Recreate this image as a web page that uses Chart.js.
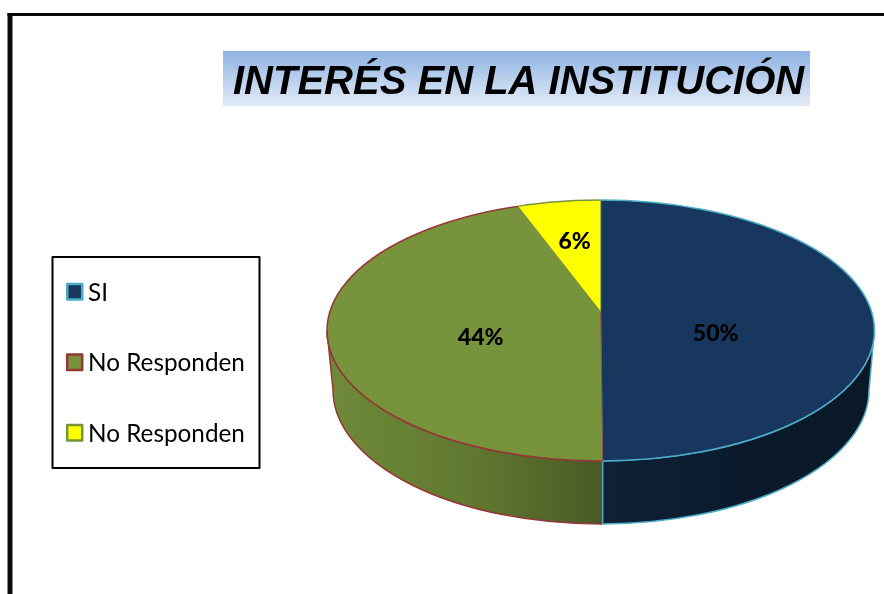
<!DOCTYPE html>
<html lang="es">
<head>
<meta charset="utf-8">
<title>Interés en la institución</title>
<style>html,body{margin:0;padding:0;background:#fff;overflow:hidden}canvas{display:block}</style>
<script src="https://cdn.jsdelivr.net/npm/chart.js@4"></script>
</head>
<body>
<canvas id="c" width="884" height="594"></canvas>
<script>
const chartTitle = 'INTERÉS EN LA INSTITUCIÓN';
const categories = ['SI', 'No Responden', 'No Responden'];
const values = [49.9, 44.4, 5.7];
const faceColors = ['#17375e', '#77933c', '#ffff00'];
const edgeColors = ['#4bacc6', '#953735', '#77933c'];

const top3d = {cx: 600.7, cy: 330.5, rx: 273.7, ry: 130.5};
const base3d = {cx: 601, cy: 390, rx: 268, ry: 134};
const squash = top3d.ry / top3d.rx;

function ellipsePath(ctx, e) {
  ctx.beginPath();
  ctx.ellipse(e.cx, e.cy, e.rx, e.ry, 0, 0, Math.PI * 2);
}
function rayHit(ax, ay, angle) {
  const dx = Math.cos(angle), dy = Math.sin(angle) * squash;
  const px = (ax - top3d.cx) / top3d.rx, py = (ay - top3d.cy) / top3d.ry;
  const qx = dx / top3d.rx, qy = dy / top3d.ry;
  const A = qx * qx + qy * qy, B = 2 * (px * qx + py * qy), C = px * px + py * py - 1;
  const t = (-B + Math.sqrt(B * B - 4 * A * C)) / (2 * A);
  return {x: ax + t * dx, y: ay + t * dy};
}
function wedgePath(ctx, arc) {
  ctx.save();
  ctx.translate(arc.x, arc.y);
  ctx.scale(1, squash);
  ctx.beginPath();
  ctx.moveTo(0, 0);
  ctx.arc(0, 0, arc.outerRadius, arc.startAngle, arc.endAngle);
  ctx.closePath();
  ctx.restore();
}

const scenePlugin = {
  id: 'scene',
  beforeDraw(chart) {
    const ctx = chart.ctx;
    ctx.save();
    ctx.fillStyle = '#fff';
    ctx.fillRect(0, 0, 884, 594);
    ctx.fillStyle = '#0a0a0a';
    ctx.fillRect(7.5, 13, 876.5, 3);
    ctx.fillRect(7.5, 13, 5, 581);
    // title band
    const g = ctx.createLinearGradient(0, 51, 0, 106);
    g.addColorStop(0, '#8db3e2');
    g.addColorStop(1, '#e4ebf7');
    ctx.fillStyle = g;
    ctx.fillRect(223, 51, 587, 55);
    ctx.fillStyle = '#000';
    ctx.font = 'italic bold 40px "Liberation Sans"';
    ctx.textAlign = 'left';
    ctx.textBaseline = 'alphabetic';
    ctx.fillText(chartTitle, 233, 93.5);
    // legend
    ctx.lineWidth = 2;
    ctx.strokeStyle = '#000';
    ctx.lineJoin = 'round';
    ctx.strokeRect(52.5, 257, 207, 211);
    const ys = [292, 362.5, 433];
    ctx.font = '24.3px Lato';
    categories.forEach((name, i) => {
      ctx.fillStyle = faceColors[i];
      ctx.fillRect(67.2, ys[i] - 8, 15, 15.5);
      ctx.strokeStyle = edgeColors[i];
      ctx.lineWidth = 2.5;
      ctx.strokeRect(67.2, ys[i] - 8, 15, 15.5);
      ctx.fillStyle = '#000';
      ctx.fillText(name, 88, ys[i] + 8.5);
    });
    ctx.restore();
  },
  beforeDatasetsDraw(chart) {
    const ctx = chart.ctx;
    const arcs = chart.getDatasetMeta(0).data;
    const split = rayHit(arcs[0].x, arcs[0].y, arcs[0].endAngle).x;
    // side wall, one part per slice that faces the viewer
    const wall = () => {
      ctx.beginPath();
      ctx.moveTo(top3d.cx - top3d.rx, top3d.cy);
      ctx.lineTo(base3d.cx - base3d.rx, base3d.cy);
      ctx.ellipse(base3d.cx, base3d.cy, base3d.rx, base3d.ry, 0, Math.PI, 0, true);
      ctx.lineTo(top3d.cx + top3d.rx, top3d.cy);
      ctx.ellipse(top3d.cx, top3d.cy, top3d.rx, top3d.ry, 0, 0, Math.PI, false);
      ctx.closePath();
    };
    const parts = [
      {x0: split, x1: 884, stops: ['#0e2138', '#0a1a2b', '#0a1826'], idx: 0, a: split, b: 880},
      {x0: 0, x1: split, stops: ['#6f8a39', '#5f7730', '#4a5826'], idx: 1, a: 330, b: split}
    ];
    parts.forEach(p => {
      ctx.save();
      ctx.beginPath();
      ctx.rect(p.x0, 0, p.x1 - p.x0, 594);
      ctx.clip();
      const g = ctx.createLinearGradient(p.a, 0, p.b, 0);
      g.addColorStop(0, p.stops[0]);
      g.addColorStop(0.55, p.stops[1]);
      g.addColorStop(1, p.stops[2]);
      wall();
      ctx.fillStyle = g;
      ctx.fill();
      ctx.lineWidth = 1.5;
      ctx.strokeStyle = edgeColors[p.idx];
      ctx.stroke();
      ctx.restore();
    });
    ctx.save();
    ctx.strokeStyle = edgeColors[0];
    ctx.lineWidth = 1.5;
    ctx.beginPath();
    const hit = rayHit(arcs[0].x, arcs[0].y, arcs[0].endAngle);
    ctx.moveTo(split, hit.y);
    ctx.lineTo(split, base3d.cy + base3d.ry);
    ctx.stroke();
    ctx.restore();
    // top face: clip to ellipse, squash around the apex
    ctx.save();
    ellipsePath(ctx, top3d);
    ctx.clip();
    ctx.translate(arcs[0].x, arcs[0].y);
    ctx.scale(1, squash);
    ctx.translate(-arcs[0].x, -arcs[0].y);
  },
  afterDatasetsDraw(chart) {
    const ctx = chart.ctx;
    ctx.restore();
    const arcs = chart.getDatasetMeta(0).data;
    arcs.forEach((arc, i) => {
      ctx.save();
      wedgePath(ctx, arc);
      ctx.clip();
      ellipsePath(ctx, top3d);
      ctx.lineWidth = 1.5;
      ctx.strokeStyle = edgeColors[i];
      ctx.stroke();
      ctx.restore();
    });
    // percentage labels
    const lift = [22, 15, -2];
    const reach = [115, 122, 146];
    ctx.save();
    ctx.font = '900 23px Lato';
    ctx.fillStyle = '#000';
    ctx.textAlign = 'center';
    ctx.textBaseline = 'middle';
    arcs.forEach((arc, i) => {
      const mid = (arc.startAngle + arc.endAngle) / 2;
      const x = arc.x + reach[i] * Math.cos(mid);
      const y = arc.y + reach[i] * Math.sin(mid) * squash + lift[i];
      ctx.fillText(Math.round(values[i]) + '%', x, y);
    });
    ctx.restore();
  }
};

new Chart(document.getElementById('c'), {
  type: 'pie',
  data: {
    labels: categories,
    datasets: [{
      data: values,
      backgroundColor: faceColors,
      borderColor: edgeColors,
      borderWidth: 1,
      clip: false,
      radius: 420
    }]
  },
  options: {
    responsive: false,
    animation: false,
    layout: {padding: {left: 327, right: 9.6, top: 200, bottom: 170.6}},
    plugins: {legend: {display: false}, title: {display: false}, tooltip: {enabled: false}}
  },
  plugins: [scenePlugin]
});
</script>
</body>
</html>
